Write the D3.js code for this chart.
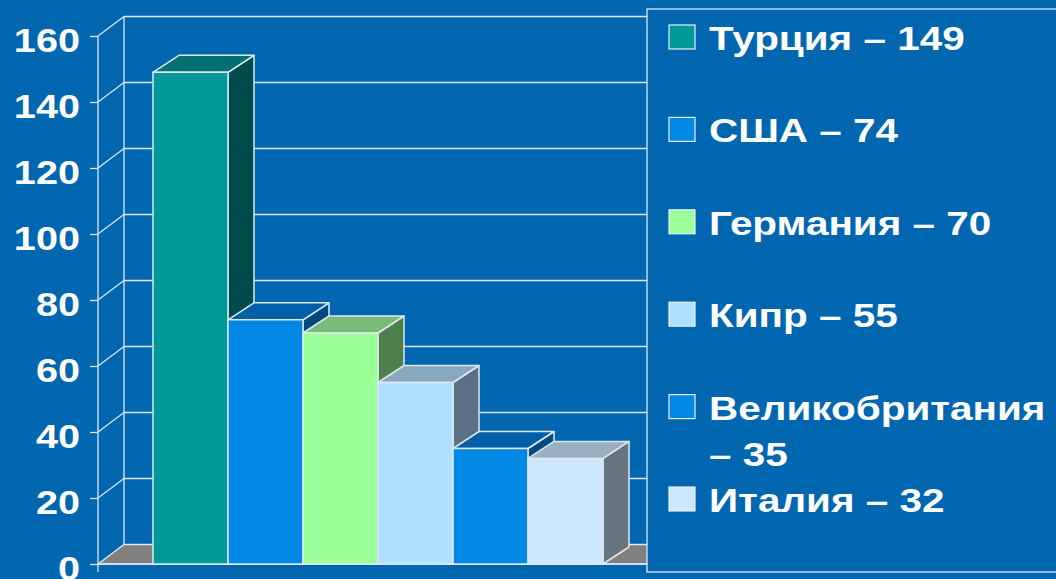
<!DOCTYPE html>
<html>
<head>
<meta charset="utf-8">
<script src="https://cdn.jsdelivr.net/npm/d3@7"></script>
<style>
  html, body { margin: 0; padding: 0; background: #0066b0; overflow: hidden; }
  text { font-family: "Liberation Sans", Arial, sans-serif; font-weight: bold; fill: #ffffff; }
</style>
</head>
<body>
<div id="chart"></div>
<script>
// values
var countries = ["Турция", "США", "Германия", "Кипр", "Великобритания", "Италия"];
var values = [149, 74, 70, 55, 35, 32];
var yTicks = [0, 20, 40, 60, 80, 100, 120, 140, 160];

// face colours per bar: front, top, side
var frontColors = ["#009999", "#0088e4", "#99ff99", "#b0e0ff", "#0088e4", "#cce8ff"];
var topColors   = ["#007070", "#005fa6", "#78bb78", "#88a8c0", "#005fa6", "#99b0c0"];
var sideColors  = ["#004c4c", "#004a80", "#4d804d", "#5a7085", "#004a80", "#667580"];

var width = 1056;
var height = 579;
var bg = "#0066b0";
var lineColor = "#dfe7ef";

var svg = d3.select("#chart").append("svg")
    .attr("width", width)
    .attr("height", height);

svg.append("rect")
    .attr("width", width)
    .attr("height", height)
    .attr("fill", bg);

// plot front plane
var x0 = 98, x1 = 658;
var y = d3.scaleLinear().domain([0, 160]).range([564, 36]);
var x = d3.scaleBand().domain(countries).range([x0, x1])
    .paddingInner(0).paddingOuter(0.733);

// depth offsets
var wdx = 26, wdy = -19.5;   // walls / floor
var bdx = 26, bdy = -17;     // bars

var g = svg.append("g");

// floor
g.append("polygon")
    .attr("points", [[x0, y(0)], [x0 + wdx, y(0) + wdy], [x1 + wdx, y(0) + wdy], [x1, y(0)]].join(" "))
    .attr("fill", "#808080")
    .attr("stroke", lineColor)
    .attr("stroke-width", 1.3);

// gridlines: diagonal on side wall + horizontal on back wall
yTicks.forEach(function(t) {
    if (t === 0) return;
    g.append("line")
        .attr("x1", x0).attr("y1", y(t))
        .attr("x2", x0 + wdx).attr("y2", y(t) + wdy)
        .attr("stroke", lineColor).attr("stroke-width", 1.3);
    g.append("line")
        .attr("x1", x0 + wdx).attr("y1", y(t) + wdy)
        .attr("x2", 660).attr("y2", y(t) + wdy)
        .attr("stroke", lineColor).attr("stroke-width", 1.3);
});

// back wall left edge
g.append("line")
    .attr("x1", x0 + wdx).attr("y1", y(160) + wdy)
    .attr("x2", x0 + wdx).attr("y2", y(0) + wdy)
    .attr("stroke", lineColor).attr("stroke-width", 1.3);

// value axis
var axis = d3.axisLeft(y).tickValues(yTicks).tickSize(8).tickFormat("");
var ax = g.append("g")
    .attr("transform", "translate(" + x0 + ",0)")
    .call(axis);
ax.select(".domain").remove();
ax.selectAll("line").attr("stroke", lineColor).attr("stroke-width", 1.3);
g.append("line")
    .attr("x1", x0).attr("y1", y(160))
    .attr("x2", x0).attr("y2", y(0) + 8)
    .attr("stroke", lineColor).attr("stroke-width", 1.3);

// tick labels, drawn wide like the slide
yTicks.forEach(function(t) {
    g.append("g")
        .attr("transform", "translate(80," + (y(t) + 15.5) + ") scale(1.22,1)")
        .append("text")
        .attr("text-anchor", "end")
        .attr("font-size", 32.5)
        .text(t);
});

// category axis line with end ticks
g.append("line")
    .attr("x1", x0).attr("y1", y(0))
    .attr("x2", x1).attr("y2", y(0))
    .attr("stroke", lineColor).attr("stroke-width", 1.3);
g.append("line")
    .attr("x1", x1).attr("y1", y(0))
    .attr("x2", x1).attr("y2", y(0) + 8)
    .attr("stroke", lineColor).attr("stroke-width", 1.3);

// bars, left to right so the next bar hides the previous side face
var bars = g.append("g");
countries.forEach(function(c, i) {
    var left = x(c), right = x(c) + x.bandwidth();
    var top = y(values[i]), bot = y(0);
    var b = bars.append("g")
        .attr("stroke", lineColor)
        .attr("stroke-width", 1.5)
        .attr("stroke-linejoin", "round");
    b.append("polygon")
        .attr("points", [[right, top], [right + bdx, top + bdy], [right + bdx, bot + bdy], [right, bot]].join(" "))
        .attr("fill", sideColors[i]);
    b.append("polygon")
        .attr("points", [[left, top], [left + bdx, top + bdy], [right + bdx, top + bdy], [right, top]].join(" "))
        .attr("fill", topColors[i]);
    b.append("rect")
        .attr("x", left).attr("y", top)
        .attr("width", x.bandwidth()).attr("height", bot - top)
        .attr("fill", frontColors[i]);
});

// legend
var legend = svg.append("g");
legend.append("rect")
    .attr("x", 647).attr("y", 9)
    .attr("width", 430).attr("height", 563)
    .attr("fill", bg)
    .attr("stroke", lineColor)
    .attr("stroke-width", 1.3);

var rowY = d3.scaleLinear().domain([0, countries.length - 1]).range([50, 512]);
countries.forEach(function(c, i) {
    var by = rowY(i);
    legend.append("rect")
        .attr("x", 669).attr("y", by - 25)
        .attr("width", 26).attr("height", 24)
        .attr("fill", frontColors[i])
        .attr("stroke", "#e8eef4")
        .attr("stroke-width", 1.2);
    var lines = c.length > 10 ? [c, "– " + values[i]] : [c + " – " + values[i]];
    lines.forEach(function(s, k) {
        legend.append("g")
            .attr("transform", "translate(709," + (by + k * 46) + ") scale(1.19,1)")
            .append("text")
            .attr("font-size", 34)
            .text(s);
    });
});
</script>
</body>
</html>
